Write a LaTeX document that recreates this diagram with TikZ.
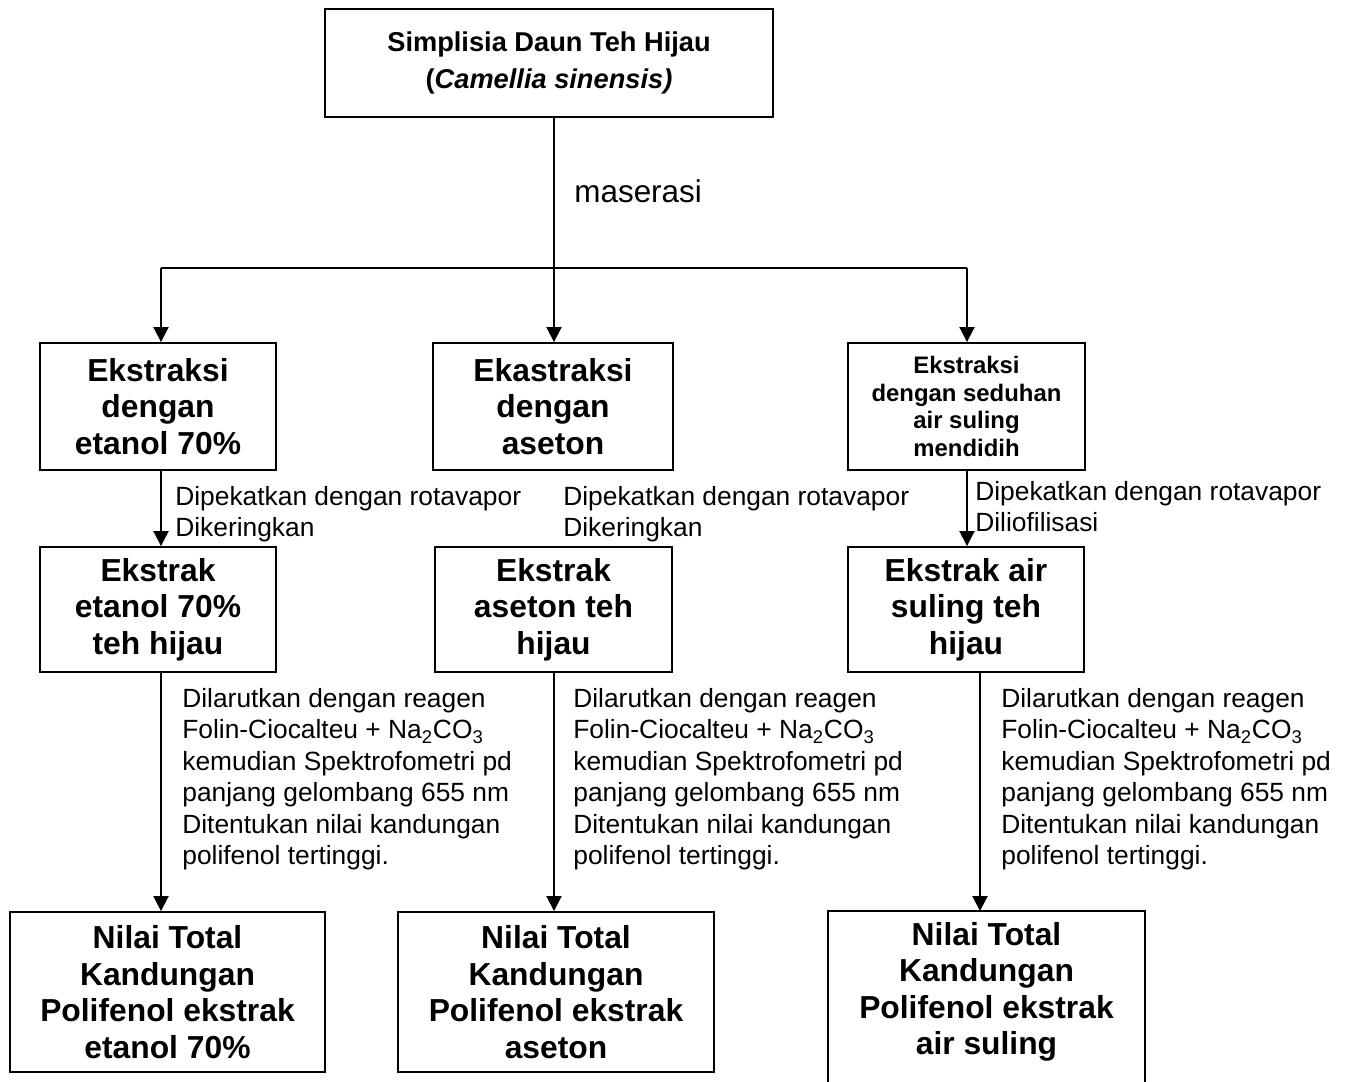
\documentclass[tikz,border=0pt]{standalone}
\usepackage{fontspec}
\setmainfont{Liberation Sans}
\usetikzlibrary{arrows.meta}
\tikzset{>={Triangle[length=0.3cm,width=0.3cm]}}
\tikzstyle{stage}=[rectangle,draw,line width=1.1pt,align=center,inner sep=0pt,font=\fontsize{18.1}{20.8}\selectfont\bfseries]
\tikzstyle{note}=[inner sep=0pt,align=left,font=\fontsize{15}{17.9}\selectfont]
\tikzstyle{flow}=[line width=1.1pt]

\begin{document}
\begin{tikzpicture}[x=0.02cm,y=-0.02cm]
    \useasboundingbox (0,0) rectangle (1350,1082);
    \clip (0,0) rectangle (1350,1082);

    \node[stage,minimum width=8.96cm,minimum height=2.16cm,font=\fontsize{15.5}{21}\selectfont\bfseries] (simp) at (549,63) {Simplisia Daun Teh Hijau\\(\textit{Camellia sinensis)}};

    \node[stage,minimum width=4.72cm,minimum height=2.54cm] (ek1) at (158,406.5) {Ekstraksi\\dengan\\etanol 70\%};
    \node[stage,minimum width=4.8cm,minimum height=2.54cm] (ek2) at (553,406.5) {Ekastraksi\\dengan\\aseton};
    \node[stage,minimum width=4.74cm,minimum height=2.54cm,font=\fontsize{13.6}{15.6}\selectfont\bfseries] (ek3) at (966.5,406.5) {Ekstraksi\\dengan seduhan\\air suling\\mendidih};

    \node[stage,minimum width=4.72cm,minimum height=2.5cm] (ex1) at (158,609.5) {Ekstrak\\etanol 70\%\\teh hijau};
    \node[stage,minimum width=4.74cm,minimum height=2.5cm] (ex2) at (553.5,609.5) {Ekstrak\\aseton teh\\hijau};
    \node[stage,minimum width=4.72cm,minimum height=2.5cm] (ex3) at (966,609.5) {Ekstrak air\\suling teh\\hijau};

    \node[stage,minimum width=6.3cm,minimum height=3.2cm] (tot1) at (167.5,992) {Nilai Total\\Kandungan\\Polifenol ekstrak\\etanol 70\%};
    \node[stage,minimum width=6.32cm,minimum height=3.2cm] (tot2) at (556,992) {Nilai Total\\Kandungan\\Polifenol ekstrak\\aseton};
    \node[stage,draw=none,minimum width=6.3cm,minimum height=3.2cm] (tot3) at (986.5,992) {Nilai Total\\Kandungan\\Polifenol ekstrak\\air suling};
    \draw[flow] ([yshift=-0.4cm]tot3.south west) -- (tot3.north west) -- (tot3.north east) -- ([yshift=-0.4cm]tot3.south east);

    \coordinate (bl) at (161,268);
    \coordinate (mid) at (554,268);
    \coordinate (br) at (967,268);
    \coordinate (r3) at (980,672);

    \draw[flow] (bl) -- (br);
    \draw[flow,->] (simp.south -| mid) -- (ek2.north -| mid);
    \draw[flow,->] (bl) -- (ek1.north -| bl);
    \draw[flow,->] (br) -- (ek3.north -| br);

    \draw[flow,->] (ek1.south -| bl) -- (ex1.north -| bl);
    \draw[flow,->] (ek3.south -| br) -- (ex3.north -| br);

    \draw[flow,->] (ex1.south -| bl) -- (tot1.north -| bl);
    \draw[flow,->] (ex2.south -| mid) -- (tot2.north -| mid);
    \draw[flow,->] (ex3.south -| r3) -- (tot3.north -| r3);

    \node[anchor=base west,inner sep=0pt,font=\fontsize{17.9}{20}\selectfont] (mas) at (574,202) {maserasi};

    \node[note,anchor=north west] (pk1) at (175,486) {Dipekatkan dengan rotavapor\\Dikeringkan};
    \node[note,anchor=north west] (pk2) at (563,486) {Dipekatkan dengan rotavapor\\Dikeringkan};
    \node[note,anchor=north west] (pk3) at (975,481) {Dipekatkan dengan rotavapor\\Diliofilisasi};

    \foreach \i/\x in {1/182,2/573,3/1001} {
        \node[note,anchor=north west] (uji\i) at (\x,688) {Dilarutkan dengan reagen\\Folin-Ciocalteu + Na\textsubscript{2}CO\textsubscript{3}\\kemudian Spektrofometri pd\\panjang gelombang 655 nm\\Ditentukan nilai kandungan\\polifenol tertinggi.};
    };
\end{tikzpicture}
\end{document}
